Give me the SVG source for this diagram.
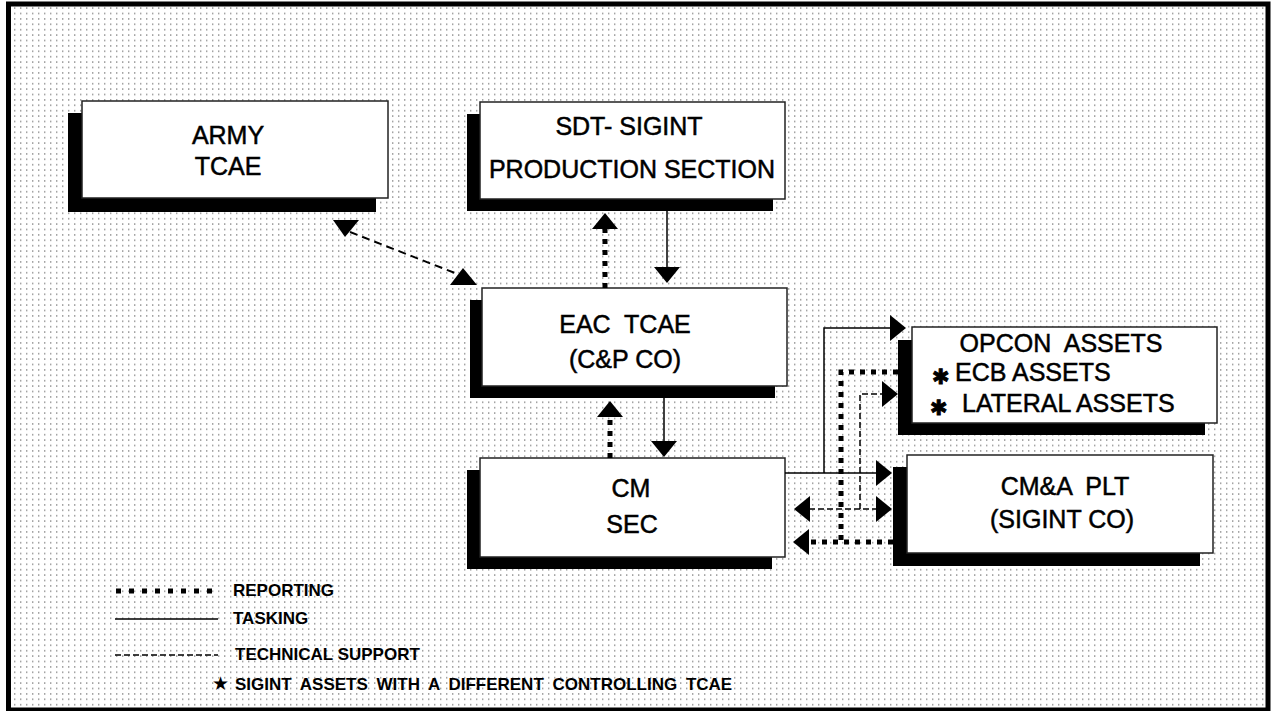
<svg xmlns="http://www.w3.org/2000/svg" width="1272" height="711" viewBox="0 0 1272 711">
<style>
.shadow{fill:#000}
.box{fill:#fff;stroke:#222;stroke-width:1.5}
.n{font-family:"Liberation Sans",Arial,sans-serif;font-size:25px;fill:#000;stroke:#000;stroke-width:0.5;text-anchor:middle;white-space:pre}
.st{font-family:"DejaVu Sans",sans-serif;font-size:21px;stroke-width:0.8}
.l{font-family:"Liberation Sans",Arial,sans-serif;font-size:17px;font-weight:bold;fill:#000}
.task{fill:none;stroke:#000;stroke-width:1.5}
.rep{fill:none;stroke:#000;stroke-width:5;stroke-dasharray:5 6}
.tech{fill:none;stroke:#000;stroke-width:1.5;stroke-dasharray:6 3}
.tech2{fill:none;stroke:#000;stroke-width:2;stroke-dasharray:8 5}
.head{fill:#000}
</style>
<defs>
<pattern id="dots" width="6" height="5.4" patternUnits="userSpaceOnUse">
<rect x="2" y="2" width="1.4" height="1.4" fill="#8a8a8a"/>
</pattern>
<marker id="ah" viewBox="0 0 16 26" refX="1" refY="13" markerWidth="16" markerHeight="26" markerUnits="userSpaceOnUse" orient="auto-start-reverse">
<path d="M0,0 L16,13 L0,26 Z" fill="#000"/>
</marker>
</defs>
<rect x="0" y="0" width="1272" height="711" fill="#fff"/>
<rect x="8.5" y="4" width="1259.5" height="706" fill="url(#dots)" stroke="#000" stroke-width="5"/>

<g id="army-tcae">
<rect class="shadow" x="68" y="113" width="308" height="99"/>
<rect class="box" x="82" y="101" width="306" height="97"/>
<text class="n" x="228" y="144">ARMY</text>
<text class="n" x="228" y="175">TCAE</text>
</g>

<g id="sdt-sigint">
<rect class="shadow" x="467" y="114" width="306" height="97"/>
<rect class="box" x="480" y="102" width="305" height="97"/>
<text class="n" x="629" y="135">SDT- SIGINT</text>
<text class="n" x="632" y="178">PRODUCTION SECTION</text>
</g>

<g id="eac-tcae">
<rect class="shadow" x="470" y="300" width="305" height="98"/>
<rect class="box" x="482" y="288" width="305" height="98"/>
<text class="n" x="625" y="333">EAC  TCAE</text>
<text class="n" x="625" y="368">(C&amp;P CO)</text>
</g>

<g id="cm-sec">
<rect class="shadow" x="467" y="470" width="305" height="99"/>
<rect class="box" x="480" y="458" width="305" height="99"/>
<text class="n" x="631" y="497">CM</text>
<text class="n" x="632" y="533">SEC</text>
</g>

<g id="opcon-assets">
<rect class="shadow" x="898" y="340" width="307" height="95"/>
<rect class="box" x="912" y="327" width="305" height="96"/>
<text class="n" x="1061" y="352">OPCON  ASSETS</text>
<text class="n" x="932" y="381" style="text-anchor:start"><tspan class="st" dy="3">✱</tspan><tspan x="955" dy="-3">ECB ASSETS</tspan></text>
<text class="n" x="930" y="412" style="text-anchor:start"><tspan class="st" dy="3">✱</tspan><tspan x="962" dy="-3">LATERAL ASSETS</tspan></text>
</g>

<g id="cma-plt">
<rect class="shadow" x="893" y="467" width="307" height="99"/>
<rect class="box" x="907" y="455" width="306" height="98"/>
<text class="n" x="1065" y="495">CM&amp;A  PLT</text>
<text class="n" x="1062" y="528">(SIGINT CO)</text>
</g>

<g id="connectors">
<line class="tech2" x1="350" y1="232" x2="460" y2="275"/>
<polygon class="head" points="333,220 359,220 345,237"/>
<polygon class="head" points="450,285 477,285 463,268"/>
<line class="rep" x1="605" y1="288" x2="605" y2="228" marker-end="url(#ah)"/>
<line class="task" x1="667" y1="211" x2="667" y2="268" marker-end="url(#ah)"/>
<line class="rep" x1="610" y1="458" x2="610" y2="416" marker-end="url(#ah)"/>
<line class="task" x1="664" y1="398" x2="664" y2="442" marker-end="url(#ah)"/>
<path class="task" d="M785,473 H877" marker-end="url(#ah)"/>
<path class="task" d="M824,473 V328 H891" marker-end="url(#ah)"/>
<path class="rep" d="M898,372 H841 V542"/>
<path class="rep" d="M893,542 H808" marker-end="url(#ah)"/>
<path class="tech" d="M860,509 V394 H883" marker-end="url(#ah)"/>
<path class="tech" d="M809,509 H877" marker-start="url(#ah)" marker-end="url(#ah)"/>
</g>

<g id="legend">
<line class="rep" x1="116" y1="591" x2="212" y2="591" style="stroke-dasharray:5 8"/>
<text class="l" x="233" y="596">REPORTING</text>
<line class="task" x1="115" y1="619" x2="218" y2="619"/>
<text class="l" x="233" y="624">TASKING</text>
<line class="tech" x1="115" y1="655" x2="218" y2="655"/>
<text class="l" x="235" y="660">TECHNICAL SUPPORT</text>
<text class="l" x="212" y="690" style="font-family:'DejaVu Sans',sans-serif;font-size:19px">★</text>
<text class="l" x="235" y="690" style="word-spacing:4px">SIGINT ASSETS WITH A DIFFERENT CONTROLLING TCAE</text>
</g>
</svg>
